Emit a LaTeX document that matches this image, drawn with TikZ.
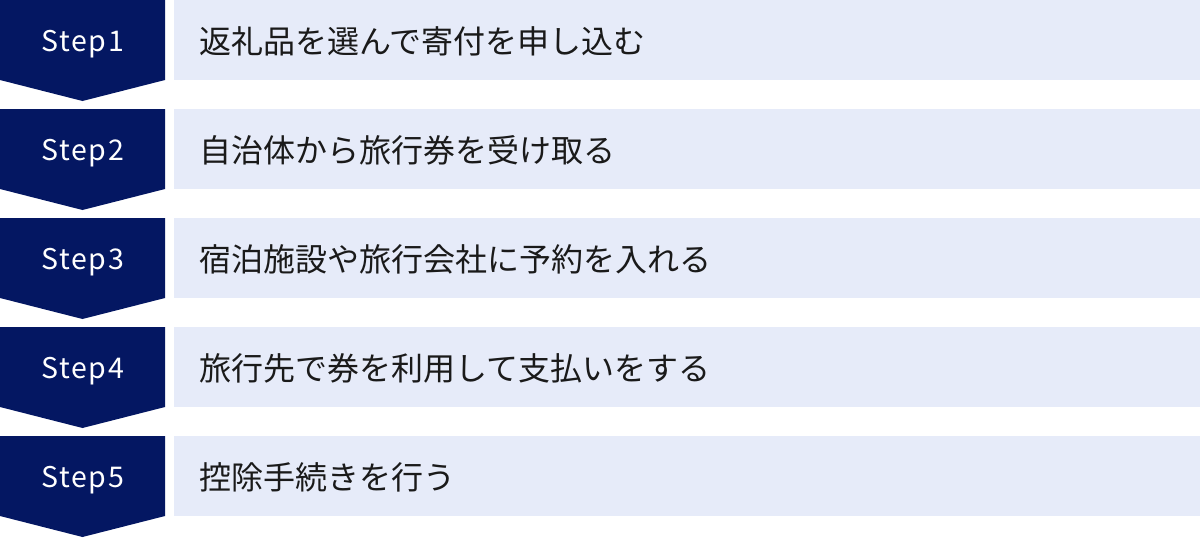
\documentclass[tikz,border=0pt]{standalone}
\usepackage{fontspec}
\newfontfamily\jpfont{Noto Sans CJK JP}
\newfontfamily\stepfont[LetterSpace=6]{Noto Sans CJK JP}
\usetikzlibrary{positioning}
\definecolor{stepnavy}{RGB}{4,23,98}
\definecolor{steplight}{RGB}{230,235,249}
\definecolor{steptext}{RGB}{26,26,26}
\tikzset{
steplabel/.style = {text=white, font=\stepfont\fontsize{28.5}{34}\selectfont, inner sep=0pt, anchor=base},
stepitem/.style = {text=steptext, font=\jpfont\fontsize{32}{36}\selectfont, inner sep=0pt, anchor=base west},
%stepitem/.style = {}
}

\begin{document}
\begin{tikzpicture}[x=1pt, y=-1pt]
      \useasboundingbox (0,0) rectangle (1200,538);
      \foreach \k/\txt in {1/返礼品を選んで寄付を申し込む,
                           2/自治体から旅行券を受け取る,
                           3/宿泊施設や旅行会社に予約を入れる,
                           4/旅行先で券を利用して支払いをする,
                           5/控除手続きを行う} {
        \pgfmathsetmacro{\t}{109*(\k-1)}
        % arrow block
        \fill [stepnavy] (0,\t) -- (165,\t) -- (165,\t+80) -- (82.5,\t+101) -- (0,\t+80) -- cycle;
        % text band
        \fill [steplight] (174,\t) rectangle (1200,\t+80);
        \node [steplabel] (step\k) at (82.5,\t+51.5) {Step\k};
        \node [stepitem] (item\k) at (199,\t+53) {\txt};
      }
\end{tikzpicture}
\end{document}
